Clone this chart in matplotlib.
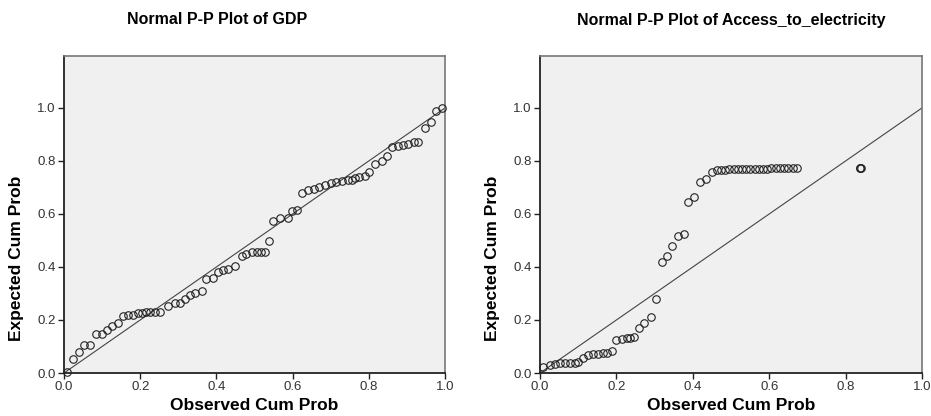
import matplotlib.pyplot as plt

plt.rcParams['font.family'] = ['Liberation Sans', 'DejaVu Sans']

# GDP: observed vs expected cumulative probability
gdp_obs = [0.007, 0.024, 0.039, 0.052, 0.068, 0.083, 0.099, 0.112, 0.125, 0.143,
           0.156, 0.169, 0.182, 0.195, 0.204, 0.215, 0.226, 0.239, 0.252, 0.274,
           0.291, 0.304, 0.318, 0.332, 0.344, 0.361, 0.374, 0.390, 0.405, 0.418,
           0.431, 0.449, 0.466, 0.479, 0.493, 0.506, 0.517, 0.527, 0.538, 0.549,
           0.567, 0.588, 0.598, 0.612, 0.624, 0.640, 0.655, 0.670, 0.685, 0.700,
           0.715, 0.730, 0.745, 0.755, 0.765, 0.775, 0.790, 0.800, 0.816, 0.835,
           0.848, 0.862, 0.876, 0.890, 0.903, 0.918, 0.930, 0.947, 0.962, 0.977,
           0.992]
gdp_exp = [0.005, 0.052, 0.078, 0.106, 0.106, 0.146, 0.147, 0.162, 0.177, 0.187,
           0.215, 0.217, 0.219, 0.226, 0.228, 0.229, 0.229, 0.230, 0.232, 0.253,
           0.265, 0.265, 0.278, 0.293, 0.303, 0.309, 0.354, 0.357, 0.380, 0.389,
           0.391, 0.404, 0.441, 0.449, 0.455, 0.458, 0.458, 0.458, 0.499, 0.575,
           0.584, 0.586, 0.612, 0.615, 0.678, 0.690, 0.695, 0.700, 0.710, 0.715,
           0.720, 0.725, 0.730, 0.730, 0.735, 0.740, 0.745, 0.760, 0.790, 0.800,
           0.820, 0.853, 0.855, 0.860, 0.865, 0.870, 0.870, 0.925, 0.946, 0.990,
           1.000]

# Access_to_electricity
elec_obs = [0.009, 0.026, 0.039, 0.052, 0.065, 0.079, 0.092, 0.100, 0.113, 0.126,
            0.140, 0.153, 0.166, 0.175, 0.188, 0.200, 0.214, 0.227, 0.236, 0.246,
            0.259, 0.273, 0.290, 0.304, 0.319, 0.333, 0.346, 0.362, 0.377, 0.388,
            0.403, 0.419, 0.435, 0.449, 0.463, 0.474, 0.485, 0.496, 0.507, 0.518,
            0.529, 0.540, 0.551, 0.562, 0.573, 0.584, 0.595, 0.606, 0.617, 0.628,
            0.639, 0.650, 0.661, 0.672, 0.837, 0.839, 0.841]
elec_exp = [0.024, 0.030, 0.034, 0.036, 0.039, 0.039, 0.039, 0.042, 0.055, 0.068,
            0.070, 0.072, 0.074, 0.077, 0.084, 0.125, 0.127, 0.131, 0.133, 0.137,
            0.169, 0.187, 0.212, 0.278, 0.418, 0.442, 0.479, 0.518, 0.525, 0.646,
            0.665, 0.722, 0.732, 0.760, 0.766, 0.767, 0.767, 0.768, 0.768, 0.769,
            0.769, 0.770, 0.770, 0.770, 0.771, 0.771, 0.771, 0.772, 0.772, 0.772,
            0.772, 0.772, 0.772, 0.772, 0.772, 0.772, 0.772]

ticks = [0.0, 0.2, 0.4, 0.6, 0.8, 1.0]
tick_labels = ['0.0', '0.2', '0.4', '0.6', '0.8', '1.0']

panels = [
    ('Normal P-P Plot of GDP', gdp_obs, gdp_exp, [64, 445], 217),
    ('Normal P-P Plot of Access_to_electricity', elec_obs, elec_exp, [540, 922], 731),
]

W, H = 931, 416
fig = plt.figure(figsize=(W / 100, H / 100), dpi=100)

for title, xs, ys, (x0, x1), tcx in panels:
    ax = fig.add_axes([x0 / W, 1 - 373 / H, (x1 - x0) / W, (373 - 56) / H])
    ax.set_facecolor('#f0f0f0')
    ax.plot([0, 1], [0, 1], color='#444444', lw=0.8, zorder=2)
    ax.plot(xs, ys, linestyle='none', marker='o', ms=5.4, mfc='none',
            mec='#222222', mew=0.8, zorder=3, clip_on=False)
    ax.set_xlim(0, 1)
    ax.set_ylim(0, 1.196)
    ax.set_xticks(ticks)
    ax.set_xticklabels(tick_labels)
    ax.set_yticks(ticks)
    ax.set_yticklabels(tick_labels)
    ax.tick_params(direction='out', length=4, width=1, colors='#222222',
                   labelcolor='#333333', labelsize=9.5, pad=2)
    for s in ['left', 'bottom']:
        ax.spines[s].set_color('#222222')
        ax.spines[s].set_linewidth(1.3)
    for s in ['top', 'right']:
        ax.spines[s].set_color('#777777')
        ax.spines[s].set_linewidth(1.2)

    fig.text(tcx / W, 1 - 20 / H, title, ha='center', va='center',
             fontsize=11.5, fontweight='bold')
    fig.text((x0 + x1) / 2 / W, 1 - 405 / H, 'Observed Cum Prob', ha='center',
             va='center', fontsize=12.5, fontweight='bold')
    fig.text((x0 - 47) / W, 1 - 258 / H, 'Expected Cum Prob', ha='center',
             va='center', rotation=90, fontsize=12.5, fontweight='bold')

fig.savefig('out.png', dpi=100)
